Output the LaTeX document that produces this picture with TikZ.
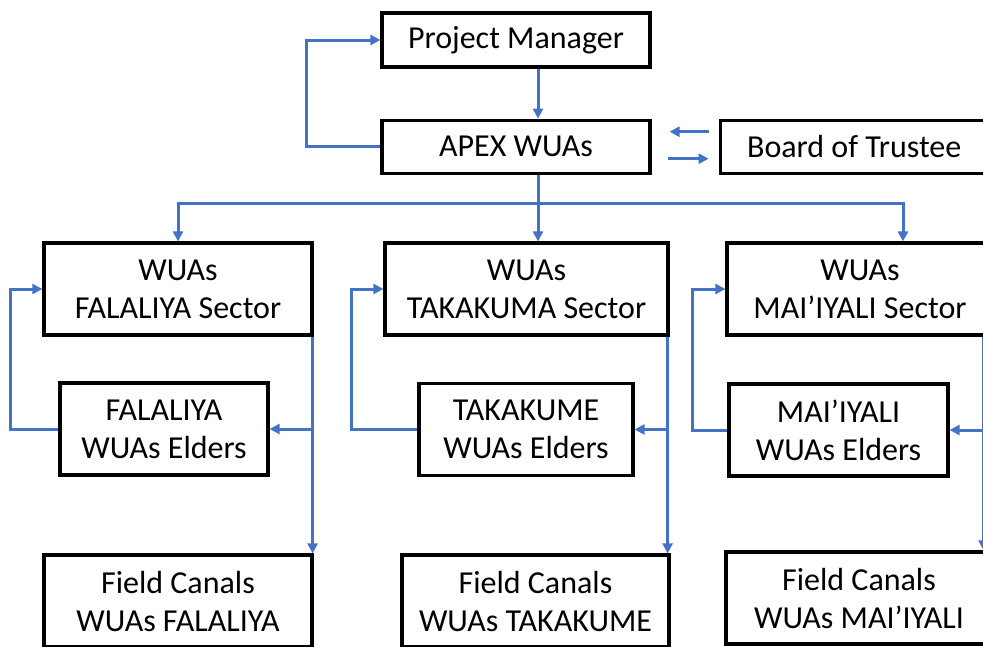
\documentclass[tikz,border=0pt]{standalone}
\usepackage{fontspec}
\setmainfont{Carlito}
\usetikzlibrary{positioning,arrows.meta}

\definecolor{linkblue}{RGB}{68,114,196}

\tikzset{
  box/.style={draw, line width=3.2pt, align=center, inner sep=0pt,
    font=\fontsize{32}{38}\selectfont},
  line/.style={draw=linkblue, line width=3pt},
  link/.style={line, -{Triangle[length=10pt,width=10pt]}}
}

\begin{document}
\begin{tikzpicture}[x=1pt,y=-1pt]

\useasboundingbox (0,0) rectangle (983,646);
\clip (0,0) rectangle (983,646);

% top of the chart
\node (pm) [box, minimum width=268pt, minimum height=54pt] at (516,40) {Project Manager};
\node (apex) [box, minimum width=268pt, minimum height=53pt, below=50pt of pm] {APEX WUAs};
\node (board) [box, minimum width=268pt, minimum height=53pt, right=67pt of apex] {Board of Trustee};

% sectors
\node (fal) [box, minimum width=268pt, minimum height=92pt] at (178,289) {WUAs\\FALALIYA Sector};
\node (tak) [box, minimum width=283pt, minimum height=92pt] at (526.5,289) {WUAs\\TAKAKUMA Sector};
\node (mai) [box, minimum width=266pt, minimum height=92pt] at (860,289) {WUAs\\MAI’IYALI Sector};

% elders
\node (falel) [box, minimum width=208pt, minimum height=92pt] at (164,429) {FALALIYA\\WUAs Elders};
\node (takel) [box, minimum width=214pt, minimum height=92pt] at (526,429.5) {TAKAKUME\\WUAs Elders};
\node (maiel) [box, minimum width=219pt, minimum height=92pt] at (838.5,430) {MAI’IYALI\\WUAs Elders};

% field canals
\node (falfc) [box, minimum width=268pt, minimum height=92pt] at (178,601) {Field Canals\\WUAs FALALIYA};
\node (takfc) [box, minimum width=267pt, minimum height=92pt] at (535.5,601) {Field Canals\\WUAs TAKAKUME};
\node (maifc) [box, minimum width=266pt, minimum height=92pt] at (859,598) {Field Canals\\WUAs MAI’IYALI};

\path[link]
(apex.west) -- ++(-74,0) |- (pm.west);
\path[link]
([xshift=22pt]pm.south) -- ([xshift=22pt]apex.north);
\path[link]
([xshift=-10pt,yshift=15pt]board.west) -- ([xshift=18pt,yshift=15pt]apex.east);
\path[link]
([xshift=16pt,yshift=-12pt]apex.east) -- ([xshift=-10pt,yshift=-12pt]board.west);

\path[line]
([xshift=22pt]apex.south) -- ++(0,29) coordinate (hub);
\path[link] (hub) -| (fal.north);
\path[link] (hub) -- ([xshift=11.5pt]tak.north);
\path[link] (hub) -| ([xshift=43pt]mai.north);

\coordinate (falv) at ([xshift=-1pt]fal.south east);
\coordinate (takv) at ([xshift=-2pt]tak.south east);
\coordinate (maiv) at ([xshift=-11pt]mai.south east);

\path[link] (falv) -- (falfc.north -| falv);
\path[link] (takv) -- (takfc.north -| takv);
\path[link] (maiv) -- (maifc.north -| maiv);

\path[link] (falel.east -| falv) -- (falel.east);
\path[link] (takel.east -| takv) -- (takel.east);
\path[link] (maiel.east -| maiv) -- (maiel.east);

\path[link] (falel.west) -- ++(-48,0) |- (fal.west);
\path[link] (takel.west) -- ++(-66,0) |- (tak.west);
\path[link] (maiel.west) -- ++(-35,0) |- (mai.west);

\end{tikzpicture}
\end{document}
